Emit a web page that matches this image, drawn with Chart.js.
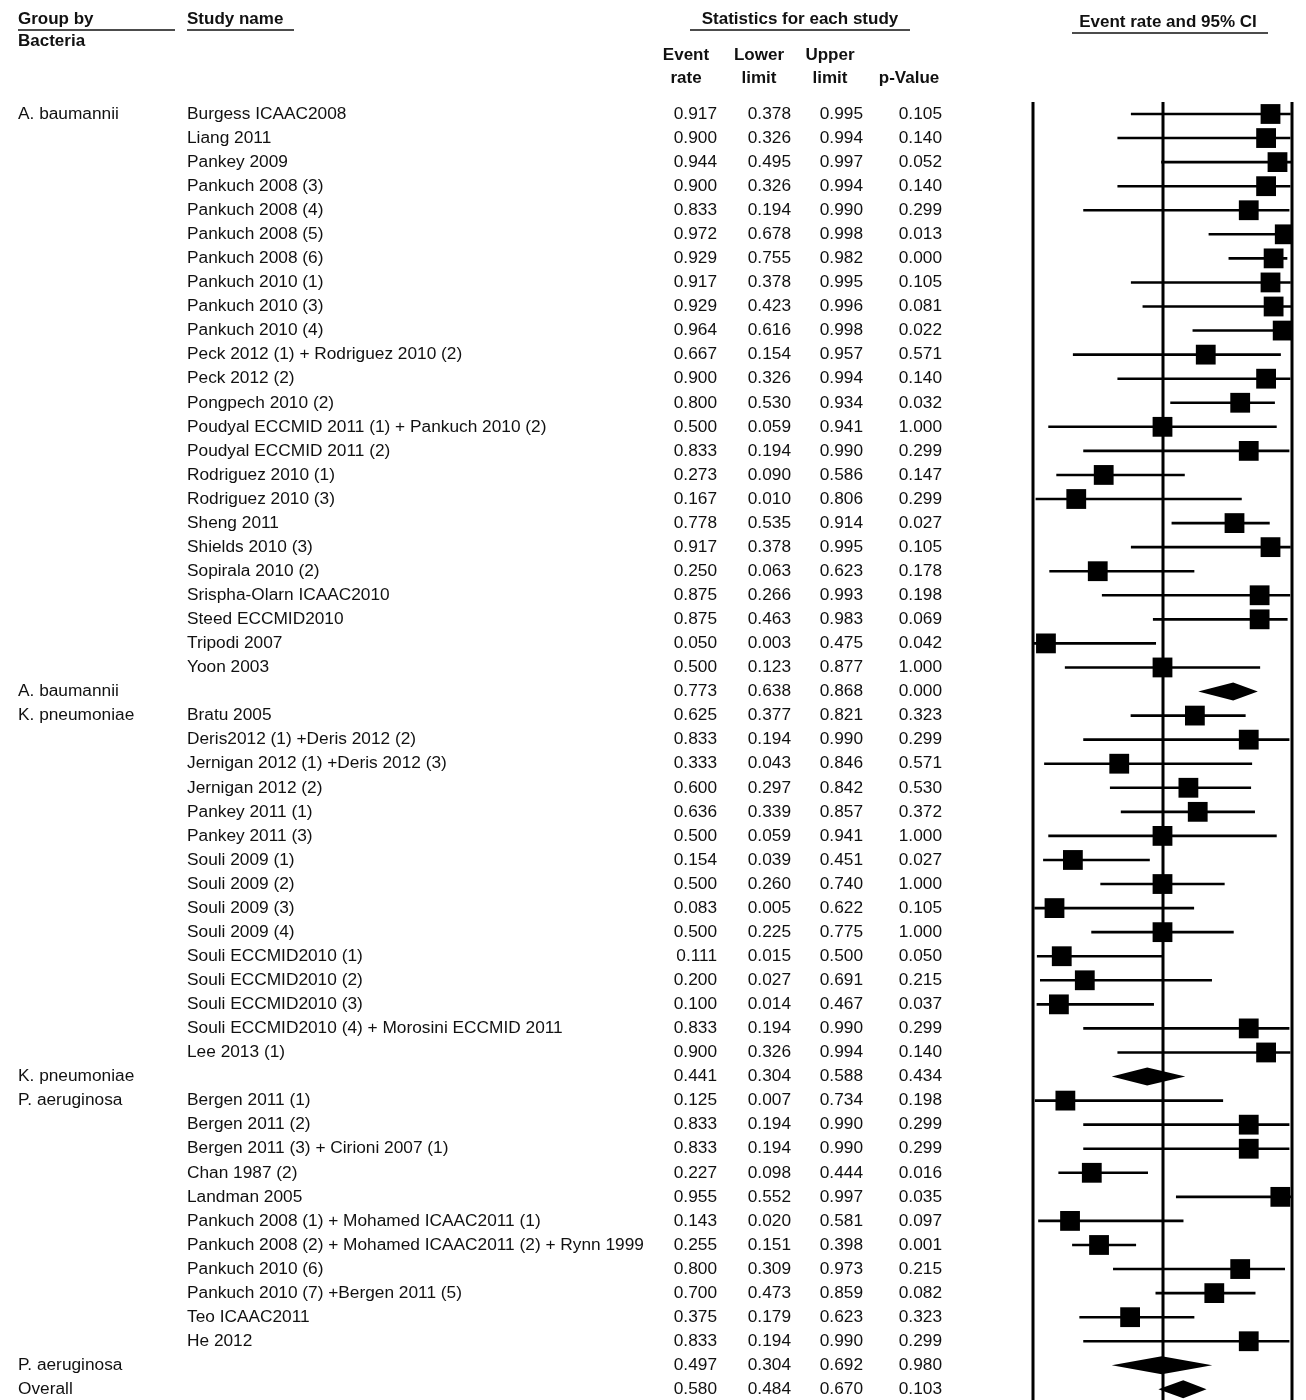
<!DOCTYPE html>
<html><head><meta charset="utf-8">
<script src="https://cdn.jsdelivr.net/npm/chart.js@4"></script>
<style>html,body{margin:0;background:#fff}#wrap{width:1306px;height:1400px;position:relative}</style>
</head><body><div id="wrap"><canvas id="c" width="1306" height="1400"></canvas></div>
<script>
// row data, top to bottom
const groups = ['A. baumannii','','','','','','','','','','','','','','','','','','','','','','','','A. baumannii',
  'K. pneumoniae','','','','','','','','','','','','','','','K. pneumoniae',
  'P. aeruginosa','','','','','','','','','','','P. aeruginosa','Overall'];
const studies = ['Burgess ICAAC2008','Liang 2011','Pankey 2009','Pankuch 2008 (3)','Pankuch 2008 (4)','Pankuch 2008 (5)',
  'Pankuch 2008 (6)','Pankuch 2010 (1)','Pankuch 2010 (3)','Pankuch 2010 (4)','Peck 2012 (1) + Rodriguez 2010 (2)',
  'Peck 2012 (2)','Pongpech 2010 (2)','Poudyal ECCMID 2011 (1) + Pankuch 2010 (2)','Poudyal ECCMID 2011 (2)',
  'Rodriguez 2010 (1)','Rodriguez 2010 (3)','Sheng 2011','Shields 2010 (3)','Sopirala 2010 (2)','Srispha-Olarn ICAAC2010',
  'Steed ECCMID2010','Tripodi 2007','Yoon 2003','',
  'Bratu 2005','Deris2012 (1) +Deris 2012 (2)','Jernigan 2012 (1) +Deris 2012 (3)','Jernigan 2012 (2)','Pankey 2011 (1)',
  'Pankey 2011 (3)','Souli 2009 (1)','Souli 2009 (2)','Souli 2009 (3)','Souli 2009 (4)','Souli ECCMID2010 (1)',
  'Souli ECCMID2010 (2)','Souli ECCMID2010 (3)','Souli ECCMID2010 (4) + Morosini ECCMID 2011','Lee 2013 (1)','',
  'Bergen 2011 (1)','Bergen 2011 (2)','Bergen 2011 (3) + Cirioni 2007 (1)','Chan 1987 (2)','Landman 2005',
  'Pankuch 2008 (1) + Mohamed ICAAC2011 (1)','Pankuch 2008 (2) + Mohamed ICAAC2011 (2) + Rynn 1999','Pankuch 2010 (6)',
  'Pankuch 2010 (7) +Bergen 2011 (5)','Teo ICAAC2011','He 2012','',''];
const rate = [0.917,0.900,0.944,0.900,0.833,0.972,0.929,0.917,0.929,0.964,0.667,0.900,0.800,0.500,0.833,0.273,0.167,0.778,0.917,0.250,0.875,0.875,0.050,0.500,0.773,
  0.625,0.833,0.333,0.600,0.636,0.500,0.154,0.500,0.083,0.500,0.111,0.200,0.100,0.833,0.900,0.441,
  0.125,0.833,0.833,0.227,0.955,0.143,0.255,0.800,0.700,0.375,0.833,0.497,0.580];
const lower = [0.378,0.326,0.495,0.326,0.194,0.678,0.755,0.378,0.423,0.616,0.154,0.326,0.530,0.059,0.194,0.090,0.010,0.535,0.378,0.063,0.266,0.463,0.003,0.123,0.638,
  0.377,0.194,0.043,0.297,0.339,0.059,0.039,0.260,0.005,0.225,0.015,0.027,0.014,0.194,0.326,0.304,
  0.007,0.194,0.194,0.098,0.552,0.020,0.151,0.309,0.473,0.179,0.194,0.304,0.484];
const upper = [0.995,0.994,0.997,0.994,0.990,0.998,0.982,0.995,0.996,0.998,0.957,0.994,0.934,0.941,0.990,0.586,0.806,0.914,0.995,0.623,0.993,0.983,0.475,0.877,0.868,
  0.821,0.990,0.846,0.842,0.857,0.941,0.451,0.740,0.622,0.775,0.500,0.691,0.467,0.990,0.994,0.588,
  0.734,0.990,0.990,0.444,0.997,0.581,0.398,0.973,0.859,0.623,0.990,0.692,0.670];
const pval = ['0.105','0.140','0.052','0.140','0.299','0.013','0.000','0.105','0.081','0.022','0.571','0.140','0.032','1.000','0.299',
  '0.147','0.299','0.027','0.105','0.178','0.198','0.069','0.042','1.000','0.000',
  '0.323','0.299','0.571','0.530','0.372','1.000','0.027','1.000','0.105','1.000','0.050','0.215','0.037','0.299','0.140','0.434',
  '0.198','0.299','0.299','0.016','0.035','0.097','0.001','0.215','0.082','0.323','0.299','0.980','0.103'];
const summaryRows = [24, 40, 52, 53];

const isSummary = i => summaryRows.includes(i);
const studyPts = [], sumPts = [];
rate.forEach((r, i) => (isSummary(i) ? sumPts : studyPts).push({x: r, y: i, lo: lower[i], hi: upper[i]}));

const FONT = '17.3px "Liberation Sans", Arial, sans-serif';
const BOLD = 'bold 17px "Liberation Sans", Arial, sans-serif';

const forest = {
  id: 'forest',
  beforeDatasetsDraw(chart) {
    const ctx = chart.ctx, xs = chart.scales.x, ys = chart.scales.y, a = chart.chartArea;
    ctx.save();
    ctx.strokeStyle = '#000';
    ctx.lineWidth = 3;
    [0, 0.5, 1].forEach(v => {
      const px = Math.round(xs.getPixelForValue(v));
      ctx.beginPath(); ctx.moveTo(px, 102); ctx.lineTo(px, chart.height); ctx.stroke();
    });
    ctx.beginPath(); ctx.rect(a.left, 0, a.right - a.left, chart.height); ctx.clip();
    // CI whiskers
    ctx.lineWidth = 2.6;
    studyPts.forEach(p => {
      const y = ys.getPixelForValue(p.y);
      ctx.beginPath(); ctx.moveTo(xs.getPixelForValue(p.lo), y); ctx.lineTo(xs.getPixelForValue(p.hi), y); ctx.stroke();
    });
    // summary diamonds
    ctx.fillStyle = '#000';
    sumPts.forEach(p => {
      const y = ys.getPixelForValue(p.y), h = 9;
      ctx.beginPath();
      ctx.moveTo(xs.getPixelForValue(p.lo), y);
      ctx.lineTo(xs.getPixelForValue(p.x), y - h);
      ctx.lineTo(xs.getPixelForValue(p.hi), y);
      ctx.lineTo(xs.getPixelForValue(p.x), y + h);
      ctx.closePath(); ctx.fill();
    });
    ctx.restore();
  },
  afterDraw(chart) {
    const ctx = chart.ctx, ys = chart.scales.y;
    ctx.save();
    ctx.fillStyle = '#111'; ctx.strokeStyle = '#111'; ctx.lineWidth = 1.5;
    ctx.textBaseline = 'middle';
    const under = (x1, x2, y) => { ctx.beginPath(); ctx.moveTo(x1, y); ctx.lineTo(x2, y); ctx.stroke(); };
    ctx.font = BOLD; ctx.textAlign = 'left';
    ctx.fillText('Group by', 18, 19); under(18, 175, 30);
    ctx.fillText('Bacteria', 18, 41);
    ctx.fillText('Study name', 187, 19); under(187, 294, 30);
    ctx.textAlign = 'center';
    ctx.fillText('Statistics for each study', 800, 19); under(690, 910, 30);
    ctx.fillText('Event rate and 95% CI', 1168, 22); under(1072, 1268, 33);
    [['Event','rate',686],['Lower','limit',759],['Upper','limit',830],['','p-Value',909]].forEach(h => {
      ctx.fillText(h[0], h[2], 55); ctx.fillText(h[1], h[2], 78);
    });
    ctx.font = FONT;
    rate.forEach((r, i) => {
      const y = ys.getPixelForValue(i);
      ctx.textAlign = 'left';
      ctx.fillText(groups[i], 18, y); ctx.fillText(studies[i], 187, y);
      ctx.textAlign = 'right';
      ctx.fillText(r.toFixed(3), 717, y); ctx.fillText(lower[i].toFixed(3), 791, y);
      ctx.fillText(upper[i].toFixed(3), 863, y); ctx.fillText(pval[i], 942, y);
    });
    ctx.restore();
  }
};

new Chart(document.getElementById('c'), {
  type: 'scatter',
  data: { datasets: [{ data: studyPts, pointStyle: 'rect', radius: 14, hoverRadius: 14,
    backgroundColor: '#000', borderColor: '#000', borderWidth: 0 }] },
  options: {
    responsive: false, animation: false, events: [],
    layout: { padding: { left: 1033, right: 14, top: 101, bottom: 0 } },
    plugins: { legend: { display: false }, tooltip: { enabled: false } },
    scales: {
      x: { type: 'linear', min: 0, max: 1, display: false },
      y: { type: 'linear', min: -0.54, max: 52.86, reverse: true, display: false }
    }
  },
  plugins: [forest]
});
</script></body></html>
